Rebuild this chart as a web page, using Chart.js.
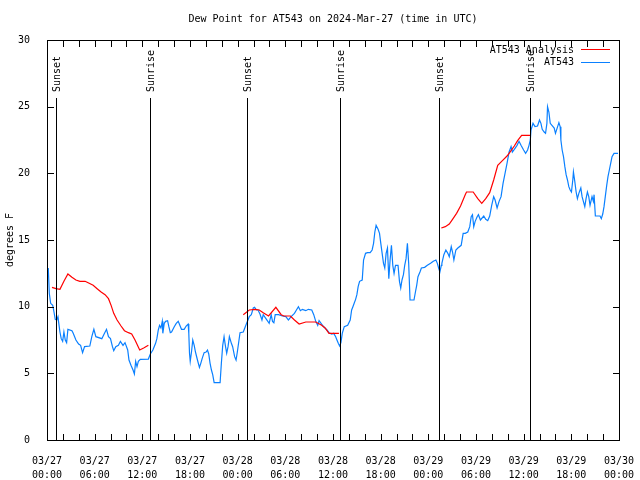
<!DOCTYPE html>
<html>
<head>
<meta charset="utf-8">
<script src="https://cdn.jsdelivr.net/npm/chart.js@4"></script>
<style>
  body { margin: 0; background: #fff; }
  canvas { display: block; }
</style>
</head>
<body>
<canvas id="chart-dewpoint" width="640" height="480"></canvas>
<script>
//=================================================================
// DATA (hours since 03/27 00:00 UTC, degrees F)
//=================================================================
const dayLabels = ['03/27', '03/28', '03/29', '03/30'];
const hourLabels = ['00:00', '06:00', '12:00', '18:00'];
const yTicks = [0, 5, 10, 15, 20, 25, 30];

const sunNames = ['Sunset', 'Sunrise', 'Sunset', 'Sunrise', 'Sunset', 'Sunrise'];
const sunHours = [1.13, 12.92, 25.21, 36.88, 49.30, 60.84];

// AT543 Analysis (null = no analysis, line breaks)
const anaHours = [0.63, 1.13, 1.63, 2.13, 2.63, 3.14, 3.64, 4.14, 4.80, 5.31,
    5.81, 6.31, 6.81, 7.31, 7.74, 8.07, 8.40, 8.82, 9.32, 9.75,
    10.25, 10.66, 11.08, 11.67, 12.17, 12.76, 18.7,
    24.71, 25.46, 26.21, 26.72, 27.22, 27.89, 28.81, 29.48, 29.82, 30.64,
    31.15, 31.74, 32.58, 33.83, 34.58, 35.00, 35.50, 36.75, 43.0,
    49.64, 50.14, 50.64, 51.05, 51.56, 52.06, 52.65, 52.81, 53.65, 54.23,
    54.73, 55.23, 55.73, 56.23, 56.74, 57.33, 57.91, 58.42, 58.83, 59.24,
    59.75, 60.84];
const anaDewpt = [11.45, 11.35, 11.3, 11.9, 12.45, 12.2, 12.0, 11.9, 11.9, 11.75,
    11.6, 11.35, 11.1, 10.9, 10.6, 10.1, 9.5, 9.0, 8.55, 8.2,
    8.05, 7.95, 7.5, 6.75, 6.9, 7.1, null,
    9.4, 9.75, 9.8, 9.75, 9.55, 9.3, 9.95, 9.4, 9.3, 9.3,
    9.0, 8.7, 8.85, 8.85, 8.6, 8.4, 8.0, 8.0, null,
    15.9, 16.0, 16.2, 16.55, 17.0, 17.55, 18.4, 18.6, 18.6, 18.1,
    17.75, 18.1, 18.55, 19.5, 20.6, 20.95, 21.3, 21.7, 22.05, 22.45,
    22.85, 22.85];

// AT543 observations
const obsHours = [0.16, 0.29, 0.46, 0.72, 0.88, 1.04, 1.22, 1.38, 1.47, 1.63,
    1.79, 1.97, 2.13, 2.30, 2.47, 2.63, 3.14, 3.30, 3.64, 3.98,
    4.23, 4.48, 4.73, 5.39, 5.64, 5.90, 6.15, 6.90, 7.24, 7.49,
    7.74, 7.99, 8.24, 8.40, 8.66, 8.99, 9.24, 9.57, 9.82, 10.16,
    10.32, 10.57, 10.83, 11.00, 11.16, 11.33, 11.50, 11.75, 12.76, 13.01,
    13.33, 13.67, 13.83, 14.01, 14.17, 14.34, 14.51, 14.58, 14.76, 14.93,
    15.18, 15.34, 15.52, 15.68, 16.02, 16.27, 16.52, 16.93, 17.27, 17.52,
    17.77, 17.85, 17.94, 18.03, 18.19, 18.35, 18.53, 18.69, 18.94, 19.19,
    19.36, 19.53, 19.78, 20.03, 20.20, 20.36, 20.53, 20.70, 20.86, 21.04,
    21.79, 21.95, 22.12, 22.29, 22.45, 22.62, 22.79, 22.96, 23.21, 23.37,
    23.62, 23.80, 23.96, 24.30, 24.71, 24.96, 25.13, 25.30, 25.46, 25.72,
    25.97, 26.13, 26.38, 26.56, 26.81, 27.06, 27.22, 27.56, 27.97, 28.22,
    28.39, 28.56, 28.73, 29.14, 29.64, 30.07, 30.39, 30.73, 31.15, 31.40,
    31.65, 31.90, 32.15, 32.58, 32.90, 33.33, 33.58, 33.83, 34.08, 34.25,
    34.50, 34.75, 35.00, 35.25, 35.50, 35.84, 36.09, 36.34, 36.50, 36.67,
    36.84, 37.00, 37.17, 37.42, 37.85, 38.17, 38.35, 38.51, 38.67, 38.85,
    39.01, 39.17, 39.35, 39.68, 39.85, 40.10, 40.35, 40.68, 40.93, 41.11,
    41.27, 41.43, 41.68, 41.86, 42.02, 42.19, 42.36, 42.52, 42.69, 42.86,
    43.03, 43.19, 43.36, 43.53, 43.69, 43.87, 44.19, 44.37, 44.53, 44.69,
    44.87, 45.03, 45.20, 45.37, 45.53, 45.70, 46.20, 46.38, 46.54, 46.70,
    46.95, 47.13, 47.54, 47.88, 48.29, 48.63, 48.96, 49.14, 49.30, 49.46,
    49.64, 49.71, 49.96, 50.21, 50.46, 50.64, 50.89, 51.05, 51.22, 51.47,
    51.72, 52.14, 52.39, 52.65, 52.97, 53.22, 53.40, 53.56, 53.72, 53.90,
    54.15, 54.31, 54.56, 54.98, 55.23, 55.48, 55.73, 55.98, 56.23, 56.41,
    56.66, 56.91, 57.16, 57.41, 57.66, 57.91, 58.17, 58.42, 58.58, 58.83,
    59.17, 59.42, 59.67, 60.00, 60.25, 60.50, 60.68, 60.84, 60.93, 61.18,
    61.43, 61.75, 62.00, 62.18, 62.34, 62.59, 62.76, 62.93, 63.01, 63.18,
    63.35, 63.85, 64.01, 64.44, 64.60, 64.69, 64.85, 65.02, 65.19, 65.35,
    65.52, 65.69, 65.86, 66.02, 66.19, 66.27, 66.44, 66.61, 66.77, 66.95,
    67.20, 67.36, 67.52, 67.70, 67.86, 68.03, 68.20, 68.36, 68.61, 68.78,
    68.87, 69.03, 69.62, 69.78, 69.96, 70.12, 70.28, 70.46, 70.62, 70.79,
    70.96, 71.13, 71.38, 71.88];
const obsDewpt = [12.9, 11.0, 10.25, 10.1, 9.6, 9.05, 9.0, 9.25, 8.8, 8.1,
    7.6, 7.4, 8.1, 7.5, 7.3, 8.3, 8.2, 8.0, 7.5, 7.2,
    7.1, 6.55, 7.0, 7.05, 7.75, 8.3, 7.75, 7.6, 8.0, 8.3,
    7.75, 7.6, 7.0, 6.7, 7.0, 7.1, 7.4, 7.1, 7.3, 6.75,
    6.0, 5.6, 5.25, 4.95, 5.9, 5.5, 5.9, 6.05, 6.07, 6.45,
    6.75, 7.25, 7.6, 8.25, 8.6, 8.4, 8.9, 8.0, 8.75, 8.9,
    8.95, 8.5, 8.05, 8.1, 8.5, 8.75, 8.9, 8.3, 8.3, 8.55,
    8.7, 8.0, 6.5, 5.9, 6.6, 7.5, 7.1, 6.6, 6.0, 5.45,
    5.75, 6.1, 6.55, 6.6, 6.75, 6.45, 5.75, 5.25, 4.9, 4.3,
    4.3, 5.75, 7.1, 7.75, 7.1, 6.5, 7.0, 7.75, 7.25, 7.0,
    6.25, 6.0, 6.6, 8.05, 8.1, 8.5, 8.75, 9.0, 9.25, 9.4,
    9.9, 9.95, 9.75, 9.75, 9.45, 9.0, 9.4, 9.1, 8.75, 9.4,
    8.9, 8.8, 9.4, 9.4, 9.3, 9.25, 9.0, 9.25, 9.5, 9.75,
    10.0, 9.7, 9.8, 9.7, 9.8, 9.75, 9.4, 8.9, 8.6, 8.95,
    8.75, 8.55, 8.4, 8.25, 8.05, 7.95, 8.0, 7.75, 7.5, 7.25,
    7.05, 7.3, 8.0, 8.5, 8.6, 9.0, 9.75, 10.0, 10.25, 10.55,
    10.9, 11.5, 11.9, 12.0, 13.5, 14.0, 14.05, 14.05, 14.25, 14.75,
    15.6, 16.1, 15.8, 15.5, 14.75, 14.0, 13.25, 12.9, 14.0, 14.4,
    12.1, 13.5, 14.6, 13.1, 12.5, 13.1, 13.1, 11.9, 11.4, 12.0,
    12.4, 13.1, 13.6, 14.75, 13.25, 10.5, 10.5, 11.1, 11.6, 12.25,
    12.6, 12.9, 12.95, 13.1, 13.25, 13.4, 13.5, 13.25, 12.9, 12.6,
    13.1, 13.25, 13.9, 14.25, 14.0, 13.75, 14.5, 14.1, 13.5, 14.25,
    14.4, 14.6, 15.5, 15.5, 15.6, 16.0, 16.75, 16.9, 16.0, 16.4,
    16.75, 16.9, 16.5, 16.8, 16.55, 16.45, 16.8, 17.6, 18.25, 18.0,
    17.4, 17.9, 18.25, 19.25, 20.0, 20.75, 21.6, 22.0, 21.6, 21.8,
    22.1, 22.4, 22.1, 21.75, 21.5, 21.75, 22.1, 22.5, 23.25, 23.75,
    23.5, 23.55, 24.0, 23.75, 23.3, 23.1, 23.0, 23.75, 25.0, 24.6,
    23.75, 23.4, 23.0, 23.8, 23.5, 22.5, 21.75, 21.25, 20.5, 19.9,
    19.5, 19.0, 18.75, 18.6, 19.5, 20.1, 19.4, 18.6, 18.1, 18.5,
    18.9, 18.25, 17.9, 17.5, 18.1, 18.6, 18.25, 17.6, 18.25, 17.9,
    18.4, 16.8, 16.8, 16.6, 16.95, 17.5, 18.25, 19.1, 19.75, 20.25,
    20.75, 21.25, 21.5, 21.5];

const FONT = '"DejaVu Sans Mono", "Liberation Mono", monospace';
const MINOR_STEP = 2; // hours between small x ticks
const TICK_LEN = 6;

function toPoints(xs, ys) {
    const n = Math.min(xs.length, ys.length);
    const pts = [];
    for (let i = 0; i < n; i++) pts.push({ x: xs[i], y: ys[i] });
    return pts;
}

//=================================================================
// PLUGIN: frame, inward ticks, sunrise/sunset lines, legend
//=================================================================
const gnuplotLook = {
    id: 'gnuplotLook',
    afterDraw(chart) {
        const ctx = chart.ctx;
        const a = chart.chartArea;
        const xs = chart.scales.x;
        const ys = chart.scales.y;
        const L = Math.round(a.left), R = Math.round(a.right);
        const T = Math.round(a.top), B = Math.round(a.bottom);
        ctx.save();
        ctx.fillStyle = '#000';

        // frame
        ctx.fillRect(L, T, R - L + 1, 1);
        ctx.fillRect(L, B, R - L + 1, 1);
        ctx.fillRect(L, T, 1, B - T + 1);
        ctx.fillRect(R, T, 1, B - T + 1);

        // inward ticks, mirrored on top / right
        for (let k = 0; k * MINOR_STEP <= 72; k++) {
            const px = Math.round(xs.getPixelForValue(k * MINOR_STEP));
            ctx.fillRect(px, B - TICK_LEN, 1, TICK_LEN);
            ctx.fillRect(px, T + 1, 1, TICK_LEN);
        }
        ys.ticks.forEach(t => {
            const py = Math.round(ys.getPixelForValue(t.value));
            ctx.fillRect(L + 1, py, TICK_LEN, 1);
            ctx.fillRect(R - TICK_LEN, py, TICK_LEN, 1);
        });

        // sunrise / sunset markers
        ctx.font = '10px ' + FONT;
        sunHours.forEach((h, i) => {
            const px = Math.round(xs.getPixelForValue(h));
            ctx.fillRect(px, 98, 1, B - 98);
            ctx.save();
            ctx.translate(px + 1.5, 92);
            ctx.rotate(-Math.PI / 2);
            ctx.textAlign = 'left';
            ctx.textBaseline = 'middle';
            ctx.fillText(sunNames[i], 0, 0);
            ctx.restore();
        });

        // legend
        ctx.textAlign = 'right';
        ctx.textBaseline = 'middle';
        chart.data.datasets.forEach((ds, i) => {
            const y = 50 + i * 12.5;
            ctx.fillStyle = '#000';
            ctx.fillText(ds.label, 574, y);
            ctx.fillStyle = ds.borderColor;
            ctx.fillRect(581, Math.round(y) - 1, 29, 1);
        });
        ctx.restore();
    }
};

//=================================================================
// CHART LINE
//=================================================================
const chartDew = document.getElementById('chart-dewpoint');

new Chart(chartDew, {
    type: 'line',
    data: {
        datasets: [{
            label: 'AT543 Analysis',
            data: toPoints(anaHours, anaDewpt),
            borderColor: '#ff0000',
            borderWidth: 1.2,
            pointRadius: 0,
            spanGaps: false,
            tension: 0
        }, {
            label: 'AT543',
            data: toPoints(obsHours, obsDewpt),
            borderColor: '#0a80ff',
            borderWidth: 1.2,
            pointRadius: 0,
            tension: 0
        }]
    },
    options: {
        responsive: false,
        animation: false,
        layout: { padding: { left: 0, right: 19, top: 0, bottom: 0 } },
        plugins: {
            legend: { display: false },
            tooltip: { enabled: false },
            title: {
                display: true,
                text: 'Dew Point for AT543 on 2024-Mar-27 (time in UTC)',
                color: '#000',
                fullSize: false,
                font: { family: FONT, size: 10, weight: 'normal' },
                padding: { top: 13, bottom: 15 }
            }
        },
        scales: {
            x: {
                type: 'linear',
                min: 0,
                max: 72,
                grid: { display: false },
                border: { display: false },
                afterFit: s => { s.height = 40; },
                ticks: {
                    stepSize: 6,
                    autoSkip: false,
                    maxRotation: 0,
                    padding: 6,
                    color: '#000',
                    font: { family: FONT, size: 10, lineHeight: 1.4 },
                    callback: v => [dayLabels[Math.floor(v / 24)], hourLabels[(v % 24) / 6]]
                }
            },
            y: {
                min: yTicks[0],
                max: yTicks[yTicks.length - 1],
                grid: { display: false },
                border: { display: false },
                afterFit: s => { s.width = 47; },
                title: {
                    display: true,
                    text: 'degrees F',
                    color: '#000',
                    font: { family: FONT, size: 10 },
                    padding: { top: 4, bottom: 0 }
                },
                ticks: {
                    stepSize: 5,
                    padding: 9,
                    color: '#000',
                    font: { family: FONT, size: 10 }
                }
            }
        }
    },
    plugins: [gnuplotLook]
});
</script>
</body>
</html>
